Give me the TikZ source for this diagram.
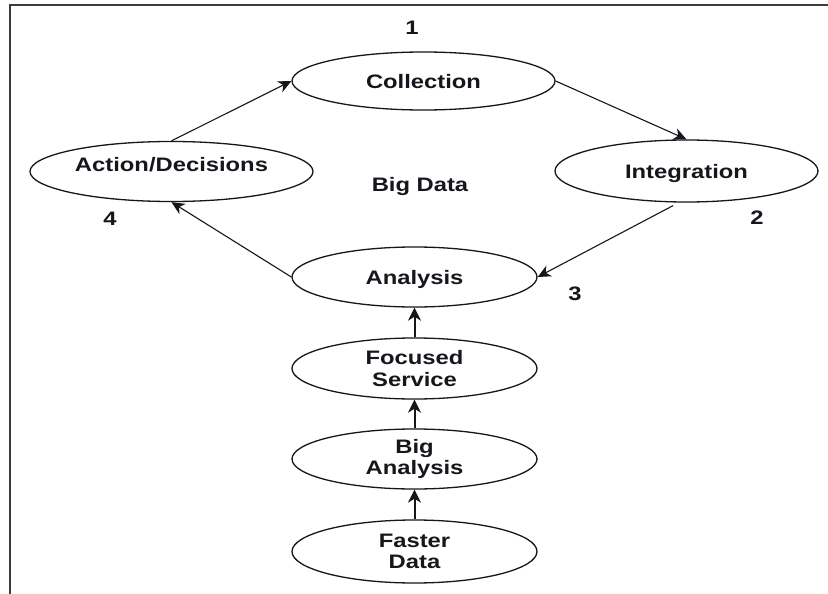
\documentclass[tikz,border=0pt]{standalone}
\usepackage{fontspec}
\setmainfont{Liberation Sans}[FakeStretch=1.22]
\usetikzlibrary{arrows.meta,shapes.geometric,calc}
\definecolor{ink}{RGB}{22,22,28}
\definecolor{framegray}{RGB}{60,60,60}
\begin{document}
\begin{tikzpicture}[x=1pt,y=-1pt,
  txt/.style={font=\bfseries\fontsize{19.5}{21.5}\selectfont, text=ink, align=center},
  stage/.style={ellipse, draw=ink, line width=1.3pt, minimum height=60pt,
                minimum width=#1, inner sep=0pt, txt},
  oneline/.style={text depth=0pt},
  flow/.style={draw=ink, line width=1.1pt, -{Stealth[length=13pt,width=12pt,inset=4pt]}},
  rise/.style={draw=ink, line width=2pt, -{Stealth[length=13pt,width=13pt,inset=4pt]}}]

  % canvas and open frame (left and top edges only)
  \useasboundingbox (0,0) rectangle (828,594);
  \fill[white] (0,0) rectangle (828,594);
  \draw[framegray, line width=2pt] (10,594) -- (10,5) -- (828,5);

  % cycle stages
  \node[stage=263pt, oneline, minimum height=58pt] (col) at (423.5,81) {Collection};
  \node[stage=263pt, oneline, minimum height=62pt] (int) at (686.5,171) {Integration};
  \node[stage=283pt] (act) at (171.5,171.5) {};
  \node[txt] (actlbl) at (171.5,164.5) {Action/Decisions};
  \node[stage=245pt, oneline] (ana) at (414.5,277) {Analysis};

  % supporting stack
  \node[stage=245pt, minimum height=61pt] (foc) at (414.5,368.5) {Focused\\Service};
  \node[stage=245pt] (big) at (414.5,459) {Big\\Analysis};
  \node[stage=245pt, minimum height=63pt] (fast) at (414.5,551.5) {Faster\\Data};

  % step numbers and centre caption
  \node[txt] (n1) at (412,28) {1};
  \node[txt] (n2) at (757,217.5) {2};
  \node[txt] (n3) at (575,294) {3};
  \node[txt] (n4) at (110,218.5) {4};
  \node[txt] (bd) at (420,187) {Big Data};

  % cycle connectors
  \coordinate (intout) at ($(int.south)+(-13.5,3)$);
  \draw[flow] (act.north) -- (col.west);
  \draw[flow] (col.east) -- (int.north);
  \draw[flow] (intout) -- (ana.east);
  \draw[flow] (ana.west) -- (act.south);

  % stack connectors
  \draw[rise] (fast.north) -- (big.south);
  \draw[rise] (big.north) -- (foc.south);
  \draw[rise] (foc.north) -- (ana.south);
\end{tikzpicture}
\end{document}
